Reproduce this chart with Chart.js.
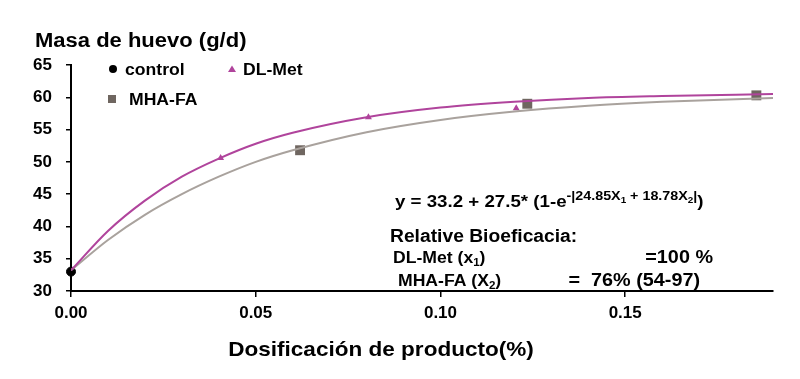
<!DOCTYPE html>
<html>
<head>
<meta charset="utf-8">
<script src="https://cdn.jsdelivr.net/npm/chart.js@4"></script>
<style>
  body { margin: 0; background: #fff; }
  #wrap { position: relative; width: 800px; height: 379px; }
</style>
</head>
<body>
<div id="wrap"><canvas id="myChart" width="800" height="379"></canvas></div>
<script>
// ************* Datos *********************************
const dosisCurva = [0, 0.01, 0.02, 0.03, 0.04, 0.05, 0.06, 0.08, 0.10, 0.12, 0.14, 0.16, 0.19];
const curvaDLMet = [33.2, 39.3, 44.0, 47.7, 50.5, 52.8, 54.5, 56.9, 58.4, 59.3, 59.9, 60.2, 60.5];
const curvaMHAFA = [33.2, 37.9, 41.8, 45.0, 47.7, 50.0, 51.8, 54.6, 56.5, 57.8, 58.7, 59.3, 59.9];

const controlX = [0];
const controlY = [33];
const dlMetX = [0.0405, 0.0805, 0.1205];
const dlMetY = [50.6, 56.9, 58.3];
const mhaX = [0.062, 0.1235, 0.1855];
const mhaY = [51.8, 59.0, 60.3];

const xTicks = [0, 0.05, 0.10, 0.15];
const yTicks = [30, 35, 40, 45, 50, 55, 60, 65];

const tituloY = 'Masa de huevo (g/d)';
const tituloX = 'Dosificación de producto(%)';
const leyenda = ['control', 'DL-Met', 'MHA-FA'];

const MORADO = '#B0449C';
const GRIS_LINEA = '#A9A29D';
const GRIS_CUADRO = '#6F6660';
const FUENTE = '"Liberation Sans", Arial, sans-serif';

function puntos(xs, ys) {
    return xs.map((x, i) => ({ x: x, y: ys[i] }));
}

// dibuja texto en tramos (para sub/superindices), un poco estirado como el original
function dibujarTramos(ctx, x, y, tramos, alinear) {
    const estirar = 1.1;
    ctx.save();
    let ancho = 0;
    tramos.forEach(([t, size]) => {
        ctx.font = `bold ${size}px ${FUENTE}`;
        ancho += ctx.measureText(t).width;
    });
    ctx.translate(x, y);
    ctx.scale(estirar, 1);
    let cx = 0;
    if (alinear === 'center') cx = -ancho / 2;
    if (alinear === 'right') cx = -ancho;
    ctx.textBaseline = 'alphabetic';
    ctx.textAlign = 'left';
    ctx.fillStyle = '#000';
    tramos.forEach(([t, size, dy]) => {
        ctx.font = `bold ${size}px ${FUENTE}`;
        ctx.fillText(t, cx, dy || 0);
        cx += ctx.measureText(t).width;
    });
    ctx.restore();
}

const textosExtra = {
    id: 'textosExtra',
    afterDraw(chart) {
        const ctx = chart.ctx;

        dibujarTramos(ctx, 35, 47, [[tituloY, 20]]);
        dibujarTramos(ctx, 381, 356, [[tituloX, 20.5]], 'center');

        // leyenda
        ctx.save();
        ctx.fillStyle = '#000';
        ctx.beginPath();
        ctx.arc(113, 69, 4, 0, Math.PI * 2);
        ctx.fill();
        ctx.fillStyle = MORADO;
        ctx.beginPath();
        ctx.moveTo(232, 65.5);
        ctx.lineTo(236, 72);
        ctx.lineTo(228, 72);
        ctx.closePath();
        ctx.fill();
        ctx.fillStyle = GRIS_CUADRO;
        ctx.fillRect(108, 95, 8, 8);
        ctx.restore();
        dibujarTramos(ctx, 125, 75, [[leyenda[0], 16]]);
        dibujarTramos(ctx, 243, 75, [[leyenda[1], 16]]);
        dibujarTramos(ctx, 129, 105, [[leyenda[2], 16]]);

        // ecuacion y bioeficacia
        dibujarTramos(ctx, 395, 207, [
            ['y = 33.2 + 27.5* (1-e', 17, 0],
            ['-|24.85X', 13, -7],
            ['1', 9, -4.5],
            [' + 18.78X', 13, -7],
            ['2', 9, -4.5],
            ['|', 13, -7],
            [')', 17, 0]
        ]);
        dibujarTramos(ctx, 390, 242, [['Relative Bioeficacia:', 17.5]]);
        dibujarTramos(ctx, 393, 263, [['DL-Met (x', 16, 0], ['1', 10.5, 3], [')', 16, 0]]);
        dibujarTramos(ctx, 713, 263, [['=100 %', 18]], 'right');
        dibujarTramos(ctx, 398, 286, [['MHA-FA (X', 16, 0], ['2', 10.5, 3], [')', 16, 0]]);
        dibujarTramos(ctx, 700, 286, [['=  76% (54-97)', 18]], 'right');
    }
};

const config = {
    type: 'scatter',
    data: {
        datasets: [
            {
                type: 'line',
                label: 'curva DL-Met',
                data: puntos(dosisCurva, curvaDLMet),
                borderColor: MORADO,
                borderWidth: 2,
                pointRadius: 0,
                cubicInterpolationMode: 'monotone',
                fill: false
            },
            {
                type: 'line',
                label: 'curva MHA-FA',
                data: puntos(dosisCurva, curvaMHAFA),
                borderColor: GRIS_LINEA,
                borderWidth: 2,
                pointRadius: 0,
                cubicInterpolationMode: 'monotone',
                fill: false
            },
            {
                label: leyenda[0],
                data: puntos(controlX, controlY),
                pointStyle: 'circle',
                pointRadius: 4.5,
                backgroundColor: '#000',
                borderColor: '#000',
                clip: false
            },
            {
                label: leyenda[1],
                data: puntos(dlMetX, dlMetY),
                pointStyle: 'triangle',
                pointRadius: 4,
                backgroundColor: MORADO,
                borderColor: MORADO,
                borderWidth: 0
            },
            {
                label: leyenda[2],
                data: puntos(mhaX, mhaY),
                pointStyle: 'rect',
                pointRadius: 7,
                backgroundColor: GRIS_CUADRO,
                borderColor: GRIS_CUADRO,
                borderWidth: 0,
                clip: false
            }
        ]
    },
    options: {
        responsive: false,
        animation: false,
        layout: { padding: { top: 65, right: 27, left: 0, bottom: 0 } },
        plugins: {
            legend: { display: false },
            tooltip: { enabled: false }
        },
        scales: {
            x: {
                type: 'linear',
                min: 0,
                max: 0.19,
                afterBuildTicks: (scale) => { scale.ticks = xTicks.map(v => ({ value: v })); },
                afterFit: (scale) => { scale.height = 88; },
                border: { color: '#000', width: 2 },
                grid: { drawOnChartArea: false, drawTicks: true, tickLength: 6, color: '#000', lineWidth: 1.5 },
                ticks: {
                    color: '#000',
                    padding: 6,
                    font: { family: FUENTE, size: 17, weight: 'bold' },
                    callback: (v) => v.toFixed(2)
                }
            },
            y: {
                min: 30,
                max: 65,
                afterBuildTicks: (scale) => { scale.ticks = yTicks.map(v => ({ value: v })); },
                afterFit: (scale) => { scale.width = 71; },
                border: { color: '#000', width: 2 },
                grid: { drawOnChartArea: false, drawTicks: true, tickLength: 5, color: '#000', lineWidth: 1.5 },
                ticks: {
                    color: '#000',
                    padding: 14,
                    font: { family: FUENTE, size: 17, weight: 'bold' }
                }
            }
        }
    },
    plugins: [textosExtra]
};

const myChart = document.getElementById('myChart').getContext('2d');
new Chart(myChart, config);
</script>
</body>
</html>
